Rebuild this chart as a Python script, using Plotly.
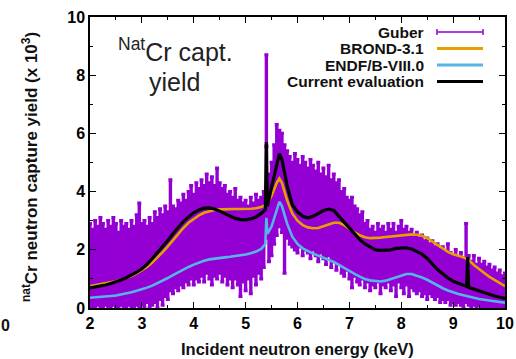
import plotly.graph_objects as go

# ---------------- data ----------------
guber_energy = [
    2.00, 2.05, 2.10, 2.15, 2.20, 2.25, 2.30, 2.35, 2.40, 2.45,
    2.50, 2.55, 2.60, 2.65, 2.70, 2.75, 2.80, 2.85, 2.90, 2.95,
    3.00, 3.05, 3.10, 3.15, 3.20, 3.25, 3.30, 3.35, 3.40, 3.45,
    3.50, 3.55, 3.60, 3.65, 3.70, 3.75, 3.80, 3.85, 3.90, 3.95,
    4.00, 4.05, 4.10, 4.15, 4.20, 4.25, 4.30, 4.35, 4.40, 4.45,
    4.50, 4.55, 4.60, 4.65, 4.70, 4.75, 4.80, 4.85, 4.90, 4.95,
    5.00, 5.05, 5.10, 5.15, 5.20, 5.25, 5.30, 5.35, 5.40, 5.45,
    5.50, 5.55, 5.60, 5.65, 5.70, 5.75, 5.80, 5.85, 5.90, 5.95,
    6.00, 6.05, 6.10, 6.15, 6.20, 6.25, 6.30, 6.35, 6.40, 6.45,
    6.50, 6.55, 6.60, 6.65, 6.70, 6.75, 6.80, 6.85, 6.90, 6.95,
    7.00, 7.05, 7.10, 7.15, 7.20, 7.25, 7.30, 7.35, 7.40, 7.45,
    7.50, 7.55, 7.60, 7.65, 7.70, 7.75, 7.80, 7.85, 7.90, 7.95,
    8.00, 8.05, 8.10, 8.15, 8.20, 8.25, 8.30, 8.35, 8.40, 8.45,
    8.50, 8.55, 8.60, 8.65, 8.70, 8.75, 8.80, 8.85, 8.90, 8.95,
    9.00, 9.05, 9.10, 9.15, 9.20, 9.25, 9.30, 9.35, 9.40, 9.45,
    9.50, 9.55, 9.60, 9.65, 9.70, 9.75, 9.80, 9.85, 9.90, 9.95,
    10.00,
]
guber_yield = [
    1.45, 1.35, 1.50, 1.45, 1.55, 1.45, 1.40, 1.50, 1.40, 1.60,
    1.45, 1.30, 1.55, 1.40, 1.45, 1.40, 1.50, 1.40, 1.65, 1.80,
    1.50, 1.50, 1.50, 1.55, 1.50, 1.75, 1.55, 1.85, 1.65, 1.95,
    1.80, 2.50, 2.00, 2.05, 2.15, 2.20, 2.30, 2.30, 2.40, 2.60,
    2.35, 2.65, 2.50, 2.75, 2.55, 2.90, 2.65, 2.65, 2.65, 2.90,
    2.75, 2.50, 2.65, 2.35, 2.50, 2.25, 2.55, 2.25, 2.10, 2.25,
    2.15, 2.25, 2.15, 2.35, 2.35, 2.45, 2.40, 2.70, 5.55, 3.10,
    3.40, 3.90, 4.40, 4.45, 4.30, 3.40, 3.90, 3.70, 3.55, 3.65,
    3.50, 3.50, 3.50, 3.50, 3.35, 3.40, 3.45, 3.25, 3.30, 3.25,
    3.25, 3.00, 3.35, 2.90, 3.10, 2.80, 2.95, 2.60, 2.60, 2.55,
    2.35, 2.25, 2.30, 2.15, 2.00, 2.15, 1.80, 1.95, 1.65, 1.80,
    1.65, 1.90, 1.60, 1.80, 1.65, 1.90, 1.65, 1.85, 1.50, 1.85,
    1.85, 1.60, 1.80, 1.50, 1.70, 1.55, 1.55, 1.50, 1.45, 1.40,
    1.35, 1.35, 1.35, 1.20, 1.30, 1.10, 1.20, 1.05, 1.25, 1.00,
    1.00, 1.05, 0.95, 1.00, 0.85, 1.55, 0.95, 0.80, 0.95, 0.75,
    0.90, 0.75, 0.80, 0.70, 0.75, 0.65, 0.70, 0.60, 0.65, 0.55,
    0.60,
]
guber_error = [
    1.45, 1.35, 1.50, 1.35, 1.55, 1.45, 1.30, 1.50, 1.40, 1.50,
    1.45, 1.30, 1.45, 1.40, 1.45, 1.30, 1.50, 1.40, 1.55, 1.80,
    1.40, 1.50, 1.30, 1.55, 1.40, 1.55, 1.55, 1.55, 1.55, 1.55,
    1.50, 1.90, 1.50, 1.35, 1.55, 1.40, 1.60, 1.40, 1.60, 1.60,
    1.55, 1.65, 1.60, 1.65, 1.65, 1.70, 1.65, 1.85, 1.55, 1.90,
    1.55, 1.60, 1.55, 1.55, 1.50, 1.55, 1.55, 1.45, 1.70, 1.35,
    1.55, 1.25, 1.65, 1.25, 1.55, 1.25, 1.40, 1.30, 3.15, 1.50,
    1.60, 1.70, 1.90, 1.65, 1.70, 2.20, 1.50, 1.50, 1.45, 1.65,
    1.60, 1.40, 1.70, 1.50, 1.45, 1.70, 1.45, 1.45, 1.70, 1.35,
    1.55, 1.50, 1.55, 1.50, 1.50, 1.50, 1.45, 1.40, 1.50, 1.25,
    1.35, 1.55, 1.20, 1.25, 1.20, 1.15, 1.10, 1.05, 1.05, 1.00,
    0.95, 1.00, 1.10, 1.00, 0.95, 1.00, 1.05, 1.05, 1.10, 0.95,
    1.15, 1.10, 1.00, 1.10, 1.00, 0.95, 1.05, 0.90, 1.05, 0.90,
    1.05, 0.85, 0.95, 0.90, 0.90, 0.90, 0.90, 0.85, 0.95, 0.90,
    0.80, 0.95, 0.75, 0.90, 0.85, 1.35, 0.85, 0.80, 0.85, 0.75,
    0.80, 0.75, 0.80, 0.70, 0.75, 0.65, 0.70, 0.60, 0.65, 0.55,
    0.60,
]

curve_energy = [
    2.0, 2.1, 2.2, 2.3, 2.4, 2.5, 2.6, 2.7, 2.8, 2.9,
    3.0, 3.1, 3.2, 3.3, 3.4, 3.5, 3.6, 3.7, 3.8, 3.9,
    4.0, 4.1, 4.2, 4.3, 4.4, 4.5, 4.6, 4.7, 4.8, 4.9,
    5.0, 5.1, 5.2, 5.3, 5.38, 5.40, 5.42, 5.5, 5.6, 5.65, 5.7,
    5.8, 5.9, 6.0, 6.1, 6.2, 6.3, 6.4, 6.5, 6.6, 6.7,
    6.8, 6.9, 7.0, 7.1, 7.2, 7.3, 7.4, 7.5, 7.6, 7.7,
    7.8, 7.9, 8.0, 8.1, 8.2, 8.3, 8.4, 8.5, 8.6, 8.7,
    8.8, 8.9, 9.0, 9.1, 9.2, 9.26, 9.28, 9.30,
    9.4, 9.5, 9.6, 9.7, 9.8, 9.9, 10.0,
]
brond_yield = [
    0.75, 0.78, 0.81, 0.84, 0.88, 0.92, 0.97, 1.03, 1.10, 1.19,
    1.29, 1.41, 1.56, 1.73, 1.92, 2.12, 2.34, 2.55, 2.75, 2.93,
    3.07, 3.18, 3.27, 3.33, 3.37, 3.39, 3.40, 3.40, 3.40, 3.40,
    3.40, 3.41, 3.43, 3.47, 3.53, 3.56, 3.60, 3.85, 4.30, 4.45, 4.30,
    3.70, 3.25, 3.00, 2.85, 2.77, 2.74, 2.75, 2.80, 2.87, 2.93,
    2.93, 2.85, 2.72, 2.60, 2.50, 2.43, 2.40, 2.40, 2.42, 2.44,
    2.46, 2.48, 2.50, 2.52, 2.53, 2.52, 2.48, 2.40, 2.28, 2.15,
    2.03, 1.93, 1.85, 1.80, 1.74, 1.69, 1.67, 1.65,
    1.48, 1.33, 1.20, 1.07, 0.96, 0.85, 0.75,
]
endf_yield = [
    0.35, 0.36, 0.37, 0.39, 0.41, 0.43, 0.46, 0.50, 0.54, 0.59,
    0.64, 0.70, 0.77, 0.85, 0.94, 1.03, 1.13, 1.23, 1.32, 1.41,
    1.49, 1.56, 1.62, 1.67, 1.70, 1.72, 1.74, 1.76, 1.78, 1.81,
    1.84, 1.88, 1.94, 2.03, 2.20, 3.10, 2.55, 2.80, 3.35, 3.65, 3.50,
    2.90, 2.45, 2.20, 2.05, 1.95, 1.87, 1.80, 1.73, 1.66, 1.58,
    1.48, 1.37, 1.27, 1.17, 1.08, 1.00, 0.95, 0.92, 0.91, 0.94,
    1.00, 1.07, 1.13, 1.17, 1.17, 1.12, 1.05, 0.97, 0.87, 0.77,
    0.68, 0.60, 0.53, 0.48, 0.44, 0.42, 0.41, 0.40,
    0.35, 0.31, 0.28, 0.25, 0.22, 0.20, 0.18,
]
current_yield = [
    0.69, 0.72, 0.75, 0.79, 0.84, 0.89, 0.96, 1.04, 1.13, 1.23,
    1.35, 1.50, 1.70, 1.90, 2.10, 2.32, 2.55, 2.78, 2.97, 3.13,
    3.27, 3.37, 3.43, 3.44, 3.40, 3.33, 3.24, 3.15, 3.08, 3.04,
    3.03, 3.06, 3.13, 3.25, 3.38, 5.70, 3.50, 4.15, 4.95, 5.30, 5.10,
    4.20, 3.55, 3.30, 3.15, 3.10, 3.15, 3.25, 3.35, 3.40, 3.35,
    3.15, 2.95, 2.75, 2.55, 2.35, 2.20, 2.10, 2.00, 1.98, 1.98,
    2.00, 2.05, 2.07, 2.07, 2.03, 1.95, 1.85, 1.70, 1.50, 1.32,
    1.18, 1.03, 0.92, 0.84, 0.78, 0.75, 1.75, 0.71,
    0.65, 0.58, 0.52, 0.46, 0.41, 0.37, 0.33,
]

series_names = ["Guber", "BROND-3.1", "ENDF/B-VIII.0", "Current evaluation"]
x_title = "Incident neutron energy (keV)"
y_title = "<sup>nat</sup>Cr neutron capture yield (x 10<sup>3</sup>)"

# ---------------- styles ----------------
PURPLE = "#9400D3"
ORANGE = "#E69F00"
BLUE = "#56B4E9"
BLACK = "#000000"
FONT = "Liberation Sans, Arial, sans-serif"

fig = go.Figure()

fig.add_trace(go.Scatter(
    x=guber_energy, y=guber_yield, mode="markers", name=series_names[0],
    marker=dict(color=PURPLE, size=4, symbol="square"),
    error_y=dict(type="data", array=guber_error, visible=True,
                 color=PURPLE, thickness=3.4, width=2),
    showlegend=False,
))
fig.add_trace(go.Scatter(x=curve_energy, y=brond_yield, mode="lines", name=series_names[1],
                         line=dict(color=ORANGE, width=2.6), showlegend=False))
fig.add_trace(go.Scatter(x=curve_energy, y=endf_yield, mode="lines", name=series_names[2],
                         line=dict(color=BLUE, width=2.6), showlegend=False))
fig.add_trace(go.Scatter(x=curve_energy, y=current_yield, mode="lines", name=series_names[3],
                         line=dict(color=BLACK, width=3.2), showlegend=False))

axis_common = dict(
    showgrid=False, zeroline=False, showline=True, linecolor="black", linewidth=1.5,
    mirror="ticks", ticks="inside", ticklen=6, tickwidth=1.2, tickcolor="black",
    tickfont=dict(family=FONT, size=16, color="black", weight="bold"),
)
fig.update_xaxes(range=[2, 10], tick0=2, dtick=1,
                 minor=dict(dtick=0.5, ticks="inside", ticklen=3, tickcolor="black", showgrid=False),
                 **axis_common)
fig.update_yaxes(range=[0, 10], tick0=0, dtick=2,
                 minor=dict(dtick=1, ticks="inside", ticklen=3, tickcolor="black", showgrid=False),
                 **axis_common)

# ---------------- gnuplot-style key (text right, sample on the right) ----------------
L, R, T, B = 90, 505, 17, 308
W, H = R - L, B - T
def px(xp):
    return (xp - L) / W
def py(yp):
    return (B - yp) / H

annotations = []
shapes = []
row_y = [32, 48.5, 65, 81.5]
colors = [PURPLE, ORANGE, BLUE, BLACK]
widths = [1.5, 3, 3, 3]
for name, ry, c, w in zip(series_names, row_y, colors, widths):
    annotations.append(dict(x=px(426), y=py(ry), xref="paper", yref="paper", text="<b>%s</b>" % name,
                            showarrow=False, xanchor="right", yanchor="middle",
                            font=dict(family=FONT, size=15.5, color="#111111")))
    shapes.append(dict(type="line", xref="paper", yref="paper", x0=px(437), x1=px(483),
                       y0=py(ry), y1=py(ry), line=dict(color=c, width=w)))
# error-bar caps on the Guber key sample
for xe in (437, 483):
    shapes.append(dict(type="line", xref="paper", yref="paper", x0=px(xe), x1=px(xe),
                       y0=py(row_y[0] - 3), y1=py(row_y[0] + 3), line=dict(color=PURPLE, width=1.5)))

# plot label
annotations.append(dict(x=px(175), y=py(50), xref="paper", yref="paper",
                        text="<sup>Nat</sup>Cr capt.", showarrow=False,
                        xanchor="center", yanchor="middle",
                        font=dict(family=FONT, size=25, color="#222222")))
annotations.append(dict(x=px(174), y=py(82), xref="paper", yref="paper",
                        text="yield", showarrow=False, xanchor="center", yanchor="middle",
                        font=dict(family=FONT, size=25, color="#222222")))

# axis titles
annotations.append(dict(x=px(297), y=py(349), xref="paper", yref="paper",
                        text="<b>%s</b>" % x_title, showarrow=False,
                        xanchor="center", yanchor="middle",
                        font=dict(family=FONT, size=16.5, color="#111111")))
annotations.append(dict(x=px(30), y=py(167), xref="paper", yref="paper",
                        text="<b>%s</b>" % y_title, showarrow=False, textangle=-90,
                        xanchor="center", yanchor="middle",
                        font=dict(family=FONT, size=17, color="#111111")))
# partial tick label of the neighbouring panel at the far left edge
annotations.append(dict(x=px(0), y=py(325), xref="paper", yref="paper",
                        text="<b>0</b>", showarrow=False, xanchor="left", yanchor="middle",
                        borderpad=0,
                        font=dict(family=FONT, size=16, color="#111111")))

fig.update_layout(
    width=516, height=359,
    margin=dict(l=L, r=516 - R, t=T, b=359 - B, autoexpand=False),
    paper_bgcolor="white", plot_bgcolor="white",
    annotations=annotations, shapes=shapes,
    showlegend=False,
)

fig.write_html("out.html")
